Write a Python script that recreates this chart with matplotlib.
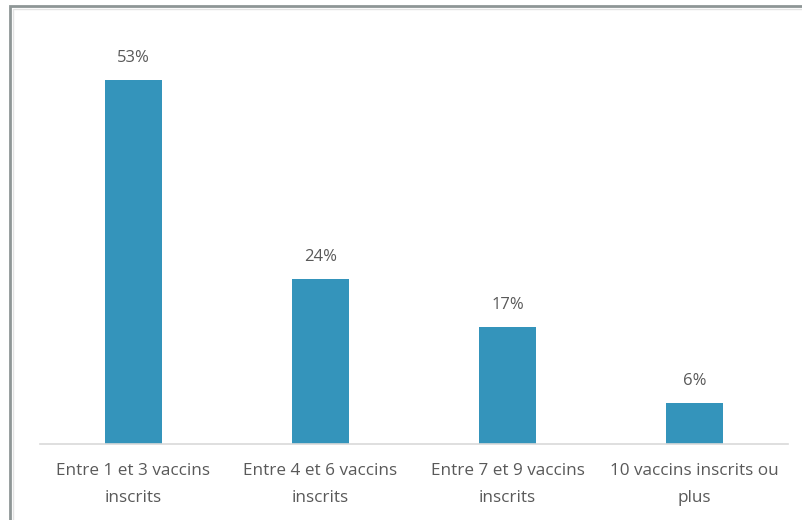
import numpy as np
import matplotlib.pyplot as plt
from matplotlib.patches import Rectangle

# -------------------------------
# Data
# -------------------------------
categories = ["Entre 1 et 3 vaccins\ninscrits", "Entre 4 et 6 vaccins\ninscrits",
              "Entre 7 et 9 vaccins\ninscrits", "10 vaccins inscrits ou\nplus"]
values = [53, 24, 17, 6]

bar_color = "#3494bb"
text_color = "#595959"

plt.rcParams['font.family'] = ['Open Sans', 'DejaVu Sans']

# -------------------------------
# Figure
# -------------------------------
fig = plt.figure(figsize=(8.03, 5.2), dpi=100)
ax = fig.add_axes([40 / 803, 76 / 520, 748 / 803, 412 / 520])

x = np.arange(len(categories))
bars = ax.bar(x, values, width=0.31, color=bar_color, zorder=2)

for xi, v in zip(x, values):
    ax.annotate(f"{v}%", (xi, v), xytext=(0, 10), textcoords="offset points",
                ha="center", va="bottom", fontsize=12, color=text_color)

ax.set_xlim(-0.5, 3.5)
ax.set_ylim(0, 60)
ax.set_xticks(x)
ax.set_xticklabels(categories, fontsize=12.3, color=text_color, linespacing=1.9)
ax.tick_params(axis="x", length=0, pad=13.5)
ax.set_yticks([])

for side in ["top", "right", "left"]:
    ax.spines[side].set_visible(False)
ax.spines["bottom"].set_color("#d9d9d9")
ax.spines["bottom"].set_linewidth(1.2)

# outer frame (chart border, partly cut off on right/bottom)
frame = Rectangle((10 / 803, -0.05), 1.0, (520 - 6) / 520 + 0.05, transform=fig.transFigure,
                  fill=False, edgecolor="#8e9696", linewidth=2.0)
fig.patches.append(frame)
inner = Rectangle((13 / 803, -0.05), 1.0, (520 - 9) / 520 + 0.05, transform=fig.transFigure,
                  fill=False, edgecolor="#e3e3e3", linewidth=1.0)
fig.patches.append(inner)

fig.savefig("out.png", dpi=100)
